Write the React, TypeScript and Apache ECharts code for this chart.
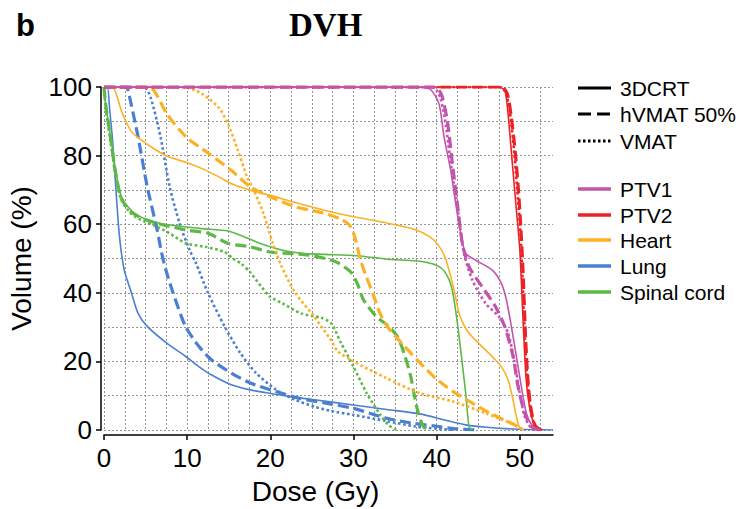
import React, { useEffect, useRef } from 'react';
import * as echarts from 'echarts';

type Pt = [number, number];

// ---- Labels ----
const techniques = ['3DCRT', 'hVMAT 50%', 'VMAT'];
const structures = ['PTV1', 'PTV2', 'Heart', 'Lung', 'Spinal cord'];
const xTickValues = [0, 10, 20, 30, 40, 50];

// ---- DVH curves: [dose (Gy), volume (%)] ----
const ptv1_3dcrt: Pt[] = [[0,100],[38,100],[39.3,99.2],[40.3,95],[40.9,85.4],[41.7,75.7],[42.3,66],[42.9,57.3],[43.5,51.5],[44.7,49.5],[46.7,46.6],[47.8,42.7],[48.4,37.9],[49,30.1],[49.6,21.4],[50.2,12.6],[50.8,4.9],[51.6,1],[52.5,0]];
const ptv1_hvmat: Pt[] = [[0,100],[39.5,100],[40.3,99],[40.7,97],[41.3,90],[41.9,77.7],[42.5,66],[43.1,54.4],[43.9,47.6],[45.5,41.7],[47.1,35.9],[48.2,30.1],[49.2,21.4],[49.8,12.6],[50.6,4.9],[51.4,1],[52.2,0]];
const ptv1_vmat: Pt[] = [[0,100],[39.2,100],[40,99],[40.5,96.5],[41.1,89],[41.8,76],[42.5,65],[43.3,51.5],[44.3,43.7],[45.9,36.9],[47.5,33],[48.6,28.2],[49.4,19.4],[50,10.7],[50.6,3.9],[51.4,0.5],[52,0]];

const ptv2_3dcrt: Pt[] = [[0,100],[47.4,100],[48.2,99],[48.6,92],[49.1,78],[49.6,64],[50,53],[50.4,32],[50.8,14],[51.4,4],[52,1],[52.8,0]];
const ptv2_hvmat: Pt[] = [[0,100],[47.8,100],[48.5,98],[49,91],[49.5,80],[49.9,68],[50.2,56],[50.4,46],[50.7,27],[51,14],[51.3,7],[51.8,1.5],[52.5,0]];
const ptv2_vmat: Pt[] = [[0,100],[47.6,100],[48.3,98.5],[48.8,93],[49.3,82],[49.7,70],[50.1,57],[50.3,46],[50.6,28],[50.9,15],[51.3,6],[51.8,1.2],[52.4,0]];

const heart_3dcrt: Pt[] = [[0,100],[0.9,100],[1.4,98.5],[2.1,93],[3.3,87],[4.5,84.5],[6,82],[7.6,79.8],[9.9,78],[11.8,76.2],[13.8,73.8],[15.7,71.4],[17.6,69.9],[20,68.4],[23,66.3],[26.6,64],[30.4,62],[34.1,60.3],[37.3,58.5],[39.2,56.3],[40.2,53.9],[41,50.5],[41.6,45.6],[42.2,39.8],[42.7,34],[43.3,30.5],[43.9,28.2],[45.1,25.2],[46.7,21.4],[47.8,18.4],[48.6,14.6],[49.2,8.7],[49.6,3.9],[50,0.5],[50.5,0]];
const heart_hvmat: Pt[] = [[0,100],[5,100],[6,99],[7.6,92],[9.9,85.4],[12.6,80.6],[15.3,75.7],[17.6,70.9],[20,68],[23.1,65],[25.8,63.6],[28.5,61.5],[29.6,59.5],[30.2,56],[30.8,50],[31.5,45],[32.3,40],[33.2,34],[34.1,30.1],[36.1,24.5],[38,19.6],[40,14.8],[42,11.2],[43.9,8.4],[45.9,5.6],[47.8,3.3],[49.4,1.5],[50.2,0]];
const heart_vmat: Pt[] = [[0,100],[9.5,100],[11.8,98],[13.8,94],[14.9,89.3],[16.1,81.6],[17.2,73.8],[18,70],[19.2,63],[20.3,54.4],[21.3,48],[23,40],[25.3,33],[27.2,26.5],[28.1,23],[30,20],[33.9,15.2],[38,10.7],[42,8.3],[45.9,4.9],[49,1.9],[50.6,0]];

const lung_3dcrt: Pt[] = [[0,100],[0.4,100],[0.7,93],[1,85.4],[1.3,75],[1.55,66],[1.8,58],[2.1,51.5],[2.5,46],[3.3,40],[4.1,34],[5.2,30.2],[7.5,25.4],[9.8,21.5],[11.4,18.5],[12.9,16.1],[15.3,13.2],[17.6,11.7],[19.9,10.7],[22.2,9.8],[25.3,8.8],[30,7.3],[34,6],[38,4.7],[41,2.9],[43.5,1.5],[46,0.8],[50,0.2],[54,0]];
const lung_hvmat: Pt[] = [[0,100],[2.7,100],[2.9,99],[4.1,85.4],[5.2,70.9],[6.4,58.3],[6.9,52],[7.4,47],[8.3,40],[9.8,30.2],[11.4,24.4],[12.9,20.5],[15.3,16.6],[17.6,13.7],[20.7,11.2],[23.4,9.3],[26.5,7.9],[30,6.3],[33.9,3.5],[37,2],[40,1.1],[42,0.4],[45,0]];
const lung_vmat: Pt[] = [[0,100],[4.8,100],[5.6,97],[6.8,85.4],[7.9,70.9],[9.1,60.2],[10.3,52.4],[11,49],[12.5,40],[14.5,30.2],[16.4,22.4],[18.3,16.6],[20.7,11.7],[23,8.8],[25.3,6.8],[27.2,5.6],[30,4.4],[34,2.6],[37.5,1],[40,0.4],[42,0]];

const cord_3dcrt: Pt[] = [[0,100],[0.2,95],[0.8,85.4],[1.4,75.7],[2.1,68],[3.3,64],[4.8,61.7],[6.8,60.2],[9.9,59.2],[11.8,58.7],[14.9,58],[16.9,56.3],[18.8,54.4],[21.5,52.4],[23.8,51.5],[26.6,51.2],[30.4,50.8],[34.1,49.8],[38,49.2],[40,48],[41,46.1],[41.8,41.7],[42.4,33],[42.9,23.3],[43.5,10.7],[43.9,1],[44.3,0]];
const cord_hvmat: Pt[] = [[0,100],[0.2,95],[0.8,85],[1.4,75],[2.1,67.5],[3.3,63.5],[4.8,61.5],[6.8,60],[9.9,58.3],[12.6,57.3],[14.9,54.4],[17.6,53.4],[20,51.9],[23.4,51.3],[24.6,51],[26.6,50],[28.1,48.8],[29.7,46],[30.5,42.5],[31.2,38],[32.7,33.2],[34.1,30.5],[35.3,27.2],[36.1,22.3],[36.9,15.5],[37.6,6.8],[38.4,1],[39.2,0]];
const cord_vmat: Pt[] = [[0,100],[0.2,94],[0.8,84],[1.4,74],[2.1,67],[3.3,63],[4.8,60.8],[6,59.7],[7.9,57.3],[9.9,54.4],[12.2,53.4],[14.5,51.9],[15.6,49.8],[16.5,48.5],[17.6,45.9],[19.9,39],[21.4,37],[23.7,34],[26.1,32.7],[27.3,31.2],[28.5,25.4],[30,18.5],[31.6,10.7],[33.1,4.9],[34.2,1.5],[35,0.3],[35.5,0]];

// ---- styling (kept apart from data) ----
const structureColors: Record<string, string> = {
  PTV1: '#c354ae',
  PTV2: '#ec2227',
  Heart: '#fcb024',
  Lung: '#4a7fd2',
  'Spinal cord': '#5cb946',
};
const techniqueStyles: Record<string, { width: number; type: any }> = {
  '3DCRT': { width: 1.6, type: 'solid' },
  'hVMAT 50%': { width: 3.2, type: [11, 5] },
  VMAT: { width: 2.6, type: [2.6, 2.6] },
};
const legendDash: Record<string, number[] | null> = {
  '3DCRT': null,
  'hVMAT 50%': [13, 6],
  VMAT: [2.5, 2.5],
};

// draw order: last is on top
const curves: { structure: string; technique: string; data: Pt[] }[] = [
  { structure: 'Lung', technique: '3DCRT', data: lung_3dcrt },
  { structure: 'Lung', technique: 'hVMAT 50%', data: lung_hvmat },
  { structure: 'Lung', technique: 'VMAT', data: lung_vmat },
  { structure: 'Spinal cord', technique: '3DCRT', data: cord_3dcrt },
  { structure: 'Spinal cord', technique: 'hVMAT 50%', data: cord_hvmat },
  { structure: 'Spinal cord', technique: 'VMAT', data: cord_vmat },
  { structure: 'Heart', technique: '3DCRT', data: heart_3dcrt },
  { structure: 'Heart', technique: 'hVMAT 50%', data: heart_hvmat },
  { structure: 'Heart', technique: 'VMAT', data: heart_vmat },
  { structure: 'PTV2', technique: '3DCRT', data: ptv2_3dcrt },
  { structure: 'PTV2', technique: 'hVMAT 50%', data: ptv2_hvmat },
  { structure: 'PTV2', technique: 'VMAT', data: ptv2_vmat },
  { structure: 'PTV1', technique: '3DCRT', data: ptv1_3dcrt },
  { structure: 'PTV1', technique: 'hVMAT 50%', data: ptv1_hvmat },
  { structure: 'PTV1', technique: 'VMAT', data: ptv1_vmat },
];

const SANS = '"Liberation Sans", Arial, Helvetica, sans-serif';
const gridLine = { color: '#939393', width: 1, type: [2, 2] as any };

export default function App() {
  const ref = useRef<HTMLDivElement>(null);

  useEffect(() => {
    if (!ref.current) return;
    const chart = echarts.init(ref.current, undefined, { renderer: 'svg' });

    const techYs = [88, 114, 141];
    const structYs = [189, 215, 240, 266, 292];
    const legendX1 = 578;
    const legendX2 = 611;
    const textX = 620;
    const legendFont = `21px ${SANS}`;

    const graphic: any[] = [];
    techniques.forEach((t, i) => {
      graphic.push({
        type: 'line',
        shape: { x1: legendX1, y1: techYs[i], x2: legendX2, y2: techYs[i] },
        style: { stroke: '#000', lineWidth: 3, lineDash: legendDash[t] || undefined },
        silent: true,
      });
      graphic.push({
        type: 'text',
        x: textX,
        y: techYs[i],
        style: { text: t, fill: '#000', font: legendFont, verticalAlign: 'middle', textVerticalAlign: 'middle' },
        silent: true,
      });
    });
    structures.forEach((s, i) => {
      graphic.push({
        type: 'line',
        shape: { x1: legendX1, y1: structYs[i], x2: legendX2, y2: structYs[i] },
        style: { stroke: structureColors[s], lineWidth: 3.5 },
        silent: true,
      });
      graphic.push({
        type: 'text',
        x: textX,
        y: structYs[i],
        style: { text: s, fill: '#000', font: legendFont, verticalAlign: 'middle', textVerticalAlign: 'middle' },
        silent: true,
      });
    });

    const series = curves.map((c, i) => ({
      type: 'line',
      name: `${c.structure} ${c.technique}`,
      data: c.data,
      symbol: 'none',
      showSymbol: false,
      smooth: 0.25,
      silent: true,
      z: 2 + i * 0.01,
      lineStyle: {
        color: structureColors[c.structure],
        width: techniqueStyles[c.technique].width,
        type: techniqueStyles[c.technique].type,
        cap: 'butt',
      },
    }));

    const option: any = {
      animation: false,
      backgroundColor: '#ffffff',
      title: [
        {
          text: 'b',
          left: 16,
          top: 10,
          padding: 0,
          textStyle: { fontSize: 31, fontWeight: 'bold', fontFamily: SANS, color: '#000' },
        },
        {
          text: 'DVH',
          left: 289,
          top: 8,
          padding: 0,
          textStyle: { fontSize: 33, fontWeight: 'bold', fontFamily: '"Liberation Serif", "Times New Roman", serif', color: '#000' },
        },
      ],
      grid: { left: 104, right: 189, top: 87, bottom: 79, containLabel: false, outerBoundsMode: 'none' },
      xAxis: {
        type: 'value',
        min: 0,
        max: 54,
        interval: 10,
        offset: 5,
        name: 'Dose (Gy)',
        nameLocation: 'middle',
        nameGap: 42,
        nameTextStyle: { fontSize: 28, color: '#000', fontFamily: SANS, padding: [0, 26, 0, 0] },
        axisLine: { show: true, onZero: false, lineStyle: { color: '#000', width: 1.5 } },
        axisTick: { show: true, inside: false, length: 5, customValues: xTickValues, lineStyle: { color: '#000', width: 1.5 } },
        axisLabel: {
          customValues: xTickValues,
          fontSize: 26,
          color: '#000',
          fontFamily: SANS,
          margin: 10,
          formatter: (v: number) => (v % 10 === 0 ? String(v) : ''),
        },
        splitLine: { show: true, showMaxLine: false, lineStyle: gridLine },
        minorTick: { show: false, splitNumber: 4 },
        minorSplitLine: { show: true, lineStyle: gridLine },
      },
      yAxis: {
        type: 'value',
        min: 0,
        max: 100,
        interval: 20,
        offset: 3,
        name: 'Volume (%)',
        nameLocation: 'middle',
        nameGap: 66,
        nameTextStyle: { fontSize: 28, color: '#000', fontFamily: SANS },
        axisLine: { show: true, onZero: false, lineStyle: { color: '#000', width: 1.5 } },
        axisTick: { show: true, inside: false, length: 5, lineStyle: { color: '#000', width: 1.5 } },
        axisLabel: { fontSize: 26, color: '#000', fontFamily: SANS, margin: 9 },
        splitLine: { show: true, lineStyle: gridLine },
        minorTick: { show: false, splitNumber: 2 },
        minorSplitLine: { show: true, lineStyle: gridLine },
      },
      graphic,
      series,
    };

    chart.setOption(option);
    return () => {
      chart.dispose();
    };
  }, []);

  return (
    <div
      ref={ref}
      style={{ position: 'fixed', left: 0, top: 0, width: 742, height: 509, background: '#fff' }}
    />
  );
}
